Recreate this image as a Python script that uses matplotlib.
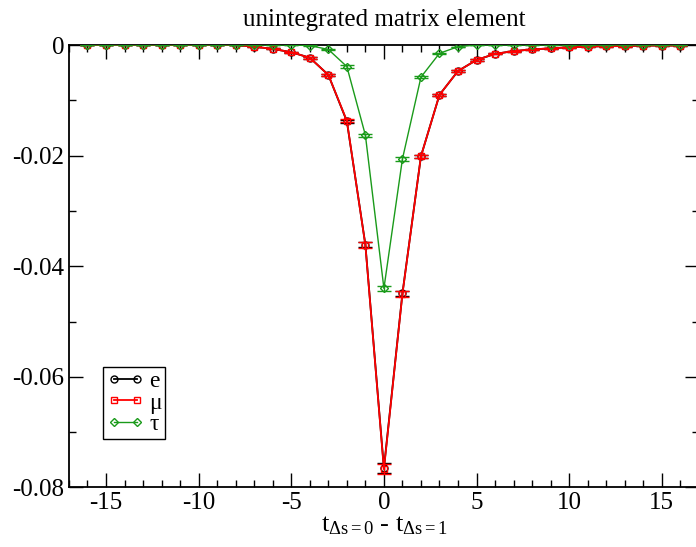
import numpy as np
import matplotlib
matplotlib.use("Agg")
import matplotlib.pyplot as plt
from matplotlib.ticker import MultipleLocator
from matplotlib.lines import Line2D

plt.rcParams['font.family'] = ['Liberation Serif', 'DejaVu Serif']
plt.rcParams['mathtext.fontset'] = 'custom'
plt.rcParams['mathtext.rm'] = 'Liberation Serif'
plt.rcParams['mathtext.it'] = 'Liberation Serif:italic'

t = list(range(-16, 17))

e_vals = [0, 0, 0, 0, 0, 0, 0, 0, 0, -0.0003, -0.0007, -0.0013, -0.0023, -0.0054, -0.0138, -0.0361,
          -0.0765, -0.0449, -0.0201, -0.0090, -0.0047, -0.0027, -0.0016, -0.0011, -0.0008,
          -0.0006, -0.0004, -0.0003, -0.0002, -0.0002, -0.0001, -0.0001, -0.0001]
e_err = [0.00003] * 9 + [0.0001, 0.0001, 0.0001, 0.0002, 0.0002, 0.0003, 0.0005,
                         0.0009, 0.0005, 0.0003, 0.0002, 0.0002, 0.0001, 0.0001, 0.0001, 0.0001,
                         0.0001, 0.0001, 0.0001, 0.0001, 0.0001, 0.0001, 0.0001, 0.0001]

mu_vals = [0, 0, 0, 0, 0, 0, 0, 0, 0, -0.0003, -0.0007, -0.0013, -0.0023, -0.0054, -0.0137, -0.0362,
           -0.0767, -0.0450, -0.0201, -0.0090, -0.0047, -0.0027, -0.0016, -0.0011, -0.0008,
           -0.0006, -0.0004, -0.0003, -0.0002, -0.0002, -0.0001, -0.0001, -0.0001]
mu_err = e_err

tau_vals = [0, 0, 0, 0, 0, 0, 0, 0, 0, 0, 0, 0, -0.0001, -0.0008, -0.0039, -0.0163,
            -0.0440, -0.0206, -0.0058, -0.0015, -0.0003, 0, 0, 0, 0,
            0, 0, 0, 0, 0, 0, 0, 0]
tau_err = [0.00002] * 13 + [0.0001, 0.0002, 0.0003, 0.00045, 0.0003, 0.0002, 0.0001] + [0.00002] * 13

labels = ['e', 'μ', 'τ']
colors = ['black', 'red', '#1a9a1a']
markers = ['o', 's', 'D']
msizes = [5, 5, 4.5]
lwidths = [1.3, 1.3, 1.0]
series = [(e_vals, e_err), (mu_vals, mu_err), (tau_vals, tau_err)]

fig = plt.figure(figsize=(6.96, 5.47), dpi=100)
ax = fig.add_axes([0.0991, 0.1088, 0.905, 0.8089])

handles = []
for i, (vals, errs) in enumerate(series):
    ax.errorbar(t, vals, yerr=errs, color=colors[i], marker=markers[i], ms=msizes[i], mfc='none',
                mew=1.0, lw=lwidths[i], capsize=5, elinewidth=1.0, capthick=1.0, zorder=3 + i)
    handles.append(Line2D([], [], color=colors[i], marker=markers[i], ms=msizes[i], mfc='none',
                          mew=1.0, lw=lwidths[i]))

ax.set_xlim(-17, 17)
ax.set_ylim(-0.08, 0)
ax.xaxis.set_major_locator(MultipleLocator(5))
ax.xaxis.set_minor_locator(MultipleLocator(1))
ax.yaxis.set_major_locator(MultipleLocator(0.02))
ax.yaxis.set_minor_locator(MultipleLocator(0.01))
ax.tick_params(which='both', direction='in', top=True, right=True, labelsize=18, width=1.0)
ax.tick_params(which='major', length=10)
ax.tick_params(which='minor', length=5)
ax.set_yticks([0, -0.02, -0.04, -0.06, -0.08])
ax.set_yticklabels(['0', '-0.02', '-0.04', '-0.06', '-0.08'])
ax.set_xticks([-15, -10, -5, 0, 5, 10, 15])
ax.set_xticklabels(['-15', '-10', '-5', '0', '5', '10', '15'])
for s in ax.spines.values():
    s.set_linewidth(1.3)

ax.set_title('unintegrated matrix element', fontsize=18, pad=14)
ax.set_xlabel(r'$\mathrm{t}_{\mathrm{\Delta s=0}}$ - $\mathrm{t}_{\mathrm{\Delta s=1}}$', fontsize=19, labelpad=0)

leg = ax.legend(handles, labels, loc='lower left', bbox_to_anchor=(0.054, 0.11), numpoints=2,
                prop={'size': 17}, frameon=True, fancybox=False, edgecolor='black', framealpha=1,
                handlelength=1.6, handletextpad=0.2, borderpad=0.15, labelspacing=0.0,
                borderaxespad=0)
leg.get_frame().set_linewidth(1.0)

fig.savefig('out.png', dpi=100)
